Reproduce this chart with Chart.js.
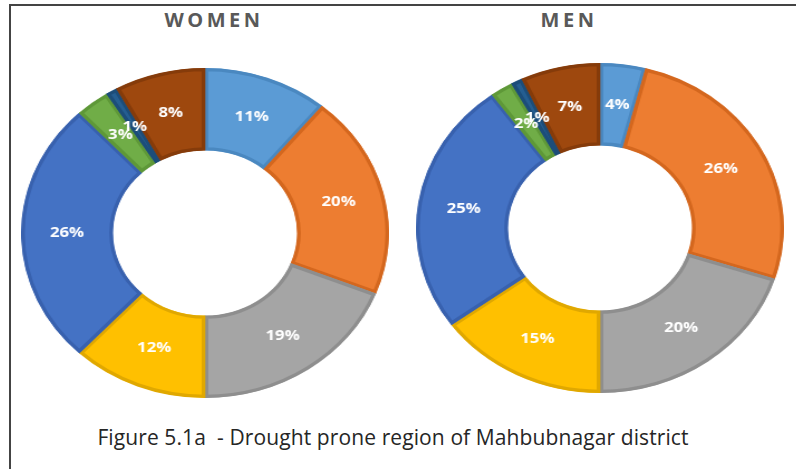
<!DOCTYPE html>
<html>
<head>
<meta charset="utf-8">
<script src="https://cdn.jsdelivr.net/npm/chart.js@4"></script>
<style>
  html, body { margin: 0; padding: 0; background: #ffffff; }
  body { width: 796px; height: 469px; position: relative; overflow: hidden; font-family: "Open Sans", sans-serif; }
  .frame-top { position: absolute; left: 9px; top: 4px; width: 800px; height: 2px; background: #444; }
  .frame-left { position: absolute; left: 9px; top: 4px; width: 2px; height: 470px; background: #444; }
  .ttl { position: absolute; font-family: "Open Sans", sans-serif; font-weight: 700; font-size: 20px; color: #595959; letter-spacing: 3.5px; line-height: 20px; white-space: nowrap; transform: translateX(-50%); }
  .wrap { position: absolute; width: 330px; height: 330px; transform: scaleX(1.115); transform-origin: 50% 50%; }
  .cap { position: absolute; left: 393px; top: 425px; transform: translateX(-50%); font-family: "Open Sans", sans-serif; font-size: 21px; color: #262626; white-space: nowrap; line-height: 24px; letter-spacing: 0.1px; }
</style>
</head>
<body>
<div class="frame-top"></div>
<div class="frame-left"></div>
<div class="ttl" id="t1" style="left:214px; top:10px;">WOMEN</div>
<div class="ttl" id="t2" style="left:569px; top:10px;">MEN</div>
<div class="wrap" style="left:40px; top:68px;"><canvas id="women" width="330" height="330"></canvas></div>
<div class="wrap" style="left:435px; top:63px;"><canvas id="men" width="330" height="330"></canvas></div>
<div class="cap">Figure 5.1a&nbsp; - Drought prone region of Mahbubnagar district</div>
<script>
const categories = ['Group 1', 'Group 2', 'Group 3', 'Group 4', 'Group 5', 'Group 6', 'Group 7', 'Group 8'];
const womenValues = [11, 20, 19, 12, 26, 3, 1, 8];
const menValues = [4, 26, 20, 15, 25, 2, 1, 7];
const sliceColors = ['#5B9BD5', '#ED7D31', '#A5A5A5', '#FFC000', '#4472C4', '#70AD47', '#255E91', '#9E480E'];
const sliceBorders = ['#4A88C0', '#D4671E', '#8E8E8E', '#E0A800', '#3861AE', '#5E9838', '#1C4D79', '#853B0A'];

const pctLabels = {
  id: 'pctLabels',
  afterDatasetsDraw(chart) {
    const ctx = chart.ctx;
    const meta = chart.getDatasetMeta(0);
    const vals = chart.data.datasets[0].data;
    ctx.save();
    ctx.fillStyle = '#ffffff';
    ctx.font = 'bold 15px "Open Sans", sans-serif';
    ctx.textAlign = 'center';
    ctx.textBaseline = 'middle';
    meta.data.forEach((arc, i) => {
      const p = arc.tooltipPosition();
      ctx.fillText(vals[i] + '%', p.x, p.y);
    });
    ctx.restore();
  }
};

function makeDonut(id, values) {
  new Chart(document.getElementById(id), {
    type: 'doughnut',
    data: {
      labels: categories,
      datasets: [{
        data: values,
        backgroundColor: sliceColors,
        borderColor: sliceBorders,
        borderWidth: 3,
        borderAlign: 'inner'
      }]
    },
    options: {
      responsive: false,
      animation: false,
      cutout: '50%',
      events: [],
      layout: { padding: 0 },
      plugins: { legend: { display: false }, tooltip: { enabled: false }, title: { display: false } }
    },
    plugins: [pctLabels]
  });
}
makeDonut('women', womenValues);
makeDonut('men', menValues);
</script>
</body>
</html>
